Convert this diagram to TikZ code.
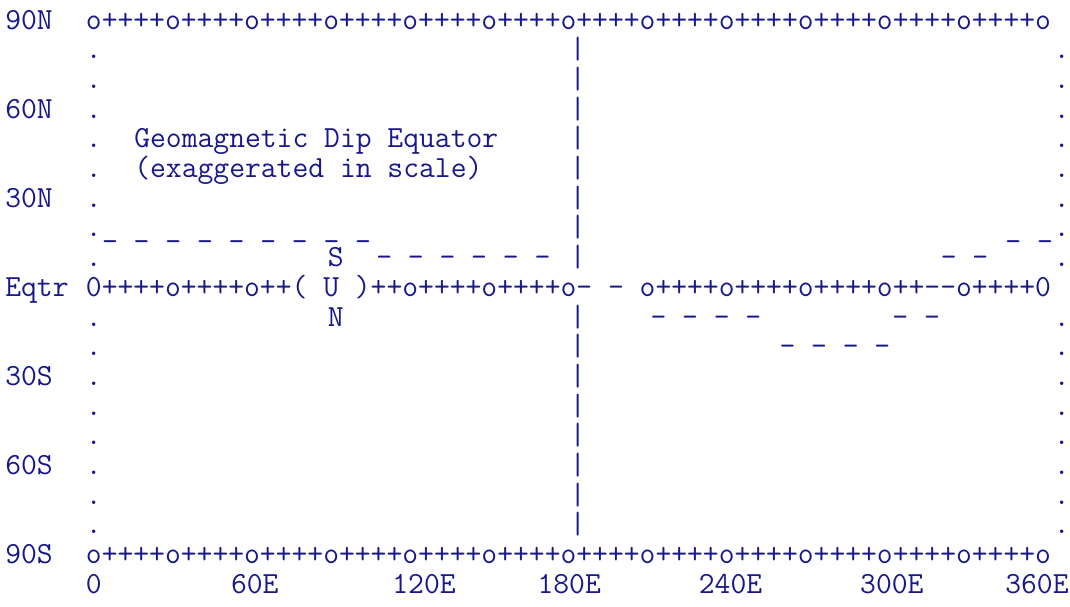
\documentclass[tikz,border=0pt]{standalone}
\begin{document}
\definecolor{ink}{RGB}{24,24,140}
% One text column is 16.13pt wide, one text row 29.7pt high.
\begin{tikzpicture}[x=16.13pt,y=-29.7pt,
  ch/.style={anchor=base west,inner sep=0pt,outer sep=0pt,text=ink,
    font=\fontsize{30.72pt}{36pt}\selectfont\ttfamily\frenchspacing}]
\useasboundingbox (-5.3pt,29pt) rectangle (1064.7pt,-577pt);

% latitude labels
\node[ch] (lat90n) at (0,0)  {90N};
\node[ch] (lat60n) at (0,3)  {60N};
\node[ch] (lat30n) at (0,6)  {30N};
\node[ch] (eqtr)   at (0,9)  {Eqtr};
\node[ch] (lat30s) at (0,12) {30S};
\node[ch] (lat60s) at (0,15) {60S};
\node[ch] (lat90s) at (0,18) {90S};

% top and bottom borders
\node[ch] (north) at (5,0)  {o++++o++++o++++o++++o++++o++++o++++o++++o++++o++++o++++o++++o};
\node[ch] (south) at (5,18) {o++++o++++o++++o++++o++++o++++o++++o++++o++++o++++o++++o++++o};

% side borders and the 180E meridian
\foreach \r in {1,...,8,10,11,...,17}{
  \node[ch] (left\r)  at (5,\r)  {.};
  \node[ch] (mid\r)   at (35,\r) {|};
  \node[ch] (right\r) at (65,\r) {.};
}

% equator with the sun
\node[ch] (equator) at (5,9) {0++++o++++o++( U )++o++++o++++o- - o++++o++++o++++o++-\kern0pt-o++++0};
\node[ch] (sunS) at (20,8)  {S};
\node[ch] (sunN) at (20,10) {N};

% title
\node[ch] (title1) at (8,4) {Geomagnetic Dip Equator};
\node[ch] (title2) at (8,5) {(exaggerated in scale)};

% dip equator trace
\node[ch] (dipA) at (6,7)  {\_ \_ \_ \_ \_ \_ \_ \_ \_};
\node[ch] (dipB) at (23,8) {- - - - - -};
\node[ch] (dipC) at (40,10) {- - - -};
\node[ch] (dipD) at (48,11) {- - - -};
\node[ch] (dipE) at (55,10) {- -};
\node[ch] (dipF) at (58,8)  {- -};
\node[ch] (dipG) at (62,7)  {\_ \_};

% longitude labels
\node[ch] (lon0)   at (5,19)  {0};
\node[ch] (lon60)  at (14,19) {60E};
\node[ch] (lon120) at (24,19) {120E};
\node[ch] (lon180) at (33,19) {180E};
\node[ch] (lon240) at (43,19) {240E};
\node[ch] (lon300) at (53,19) {300E};
\node[ch] (lon360) at (62,19) {360E};
\end{tikzpicture}
\end{document}
